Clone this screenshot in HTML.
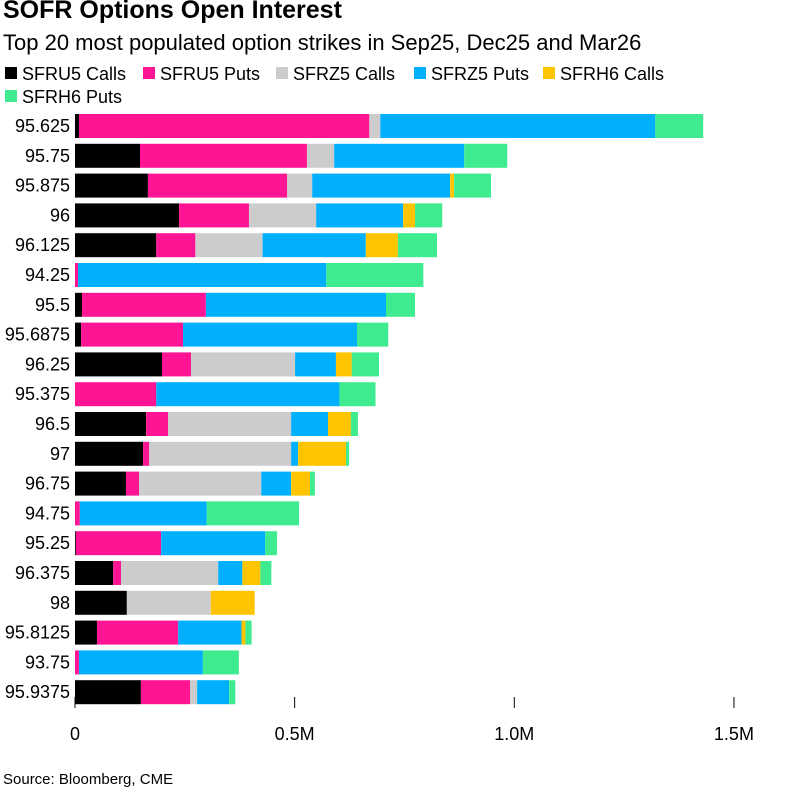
<!DOCTYPE html>
<html><head><meta charset="utf-8"><style>
body{margin:0;background:#fff;font-family:"Liberation Sans",sans-serif;}
#wrap{position:relative;width:810px;height:804px;overflow:hidden;}
</style></head><body>
<div id="wrap">
<svg id="chart" width="810" height="804">
<text x="3" y="18" font-size="25" font-weight="bold" fill="#000">SOFR Options Open Interest</text>
<text x="3" y="50" font-size="22" fill="#000">Top 20 most populated option strikes in Sep25, Dec25 and Mar26</text>
<text x="3" y="784" font-size="15" fill="#000">Source: Bloomberg, CME</text>
<g id="legend"></g>
<g id="plot"></g>
</svg>
</div>
<script>
const categories=["95.625","95.75","95.875","96","96.125","94.25","95.5","95.6875","96.25","95.375","96.5","97","96.75","94.75","95.25","96.375","98","95.8125","93.75","95.9375"];
const seriesNames=["SFRU5 Calls","SFRU5 Puts","SFRZ5 Calls","SFRZ5 Puts","SFRH6 Calls","SFRH6 Puts"];
const colors=["#000000","#ff1493","#cccccc","#00b0ff","#ffc400","#3eeb8e"];
const sfru5Calls=[9,148,166,237,185,0,16,14,198,0,162,155,116,0,2,87,118,50,0,150];
const sfru5Puts=[661,380,317,159,89,7,282,232,66,185,50,14,30,11,194,18,0,185,9,112];
const sfrz5Calls=[25,62,57,153,153,0,0,0,237,0,280,323,278,0,0,221,191,0,0,16];
const sfrz5Puts=[626,296,314,198,235,565,410,396,93,417,84,16,68,289,237,55,0,144,282,73];
const sfrh6Calls=[0,0,9,27,73,0,0,0,36,0,52,109,43,0,0,41,100,9,0,0];
const sfrh6Puts=[109,98,84,62,89,221,66,71,62,82,16,7,11,210,27,25,0,14,82,14];
const tickValues=[0,500,1000,1500];
const tickLabels=["0","0.5M","1.0M","1.5M"];
const series=[sfru5Calls,sfru5Puts,sfrz5Calls,sfrz5Puts,sfrh6Calls,sfrh6Puts];
const NS="http://www.w3.org/2000/svg";
const x0=75,pxPer=0.4393;
const xScale=v=>x0+v*pxPer;
const yScale=i=>114+i*29.8;
const barH=24;
const plot=document.getElementById('plot');
function mk(tag,attrs,parent){const e=document.createElementNS(NS,tag);for(const k in attrs)e.setAttribute(k,attrs[k]);parent.appendChild(e);return e;}
tickValues.forEach((t,i)=>{
  const l=mk('line',{x1:xScale(t),x2:xScale(t),y1:697,y2:708,stroke:'#000','stroke-width':1},plot);
  
  
  const tx=mk('text',{x:xScale(t),y:740,'font-size':18,'text-anchor':'middle',fill:'#000'},plot);
  tx.textContent=tickLabels[i];
  
  
});
categories.forEach((c,i)=>{
  const y=yScale(i);
  const lab=mk('text',{x:70,y:y+18,'font-size':18,'text-anchor':'end',fill:'#000'},plot);
  lab.textContent=c;
  
  
  let acc=0;
  series.forEach((s,j)=>{
    const v=s[i];
    if(v>0){
      const r=mk('rect',{x:xScale(acc),y:y,width:v*pxPer,height:barH,fill:colors[j]},plot);
      
      
    }
    acc+=v;
  });
});
const leg=document.getElementById('legend');
const legPos=[[5,79],[143,79],[276,79],[414,79],[543,79],[5,102]];
seriesNames.forEach((n,j)=>{
  const [lx,ly]=legPos[j];
  const sw=mk('rect',{x:lx,y:ly-12,width:12,height:12,fill:colors[j]},leg);
  
  
  const t=mk('text',{x:lx+17,y:ly+1,'font-size':18,fill:'#000'},leg);
  t.textContent=n;
  
  
});
</script>
</body></html>
